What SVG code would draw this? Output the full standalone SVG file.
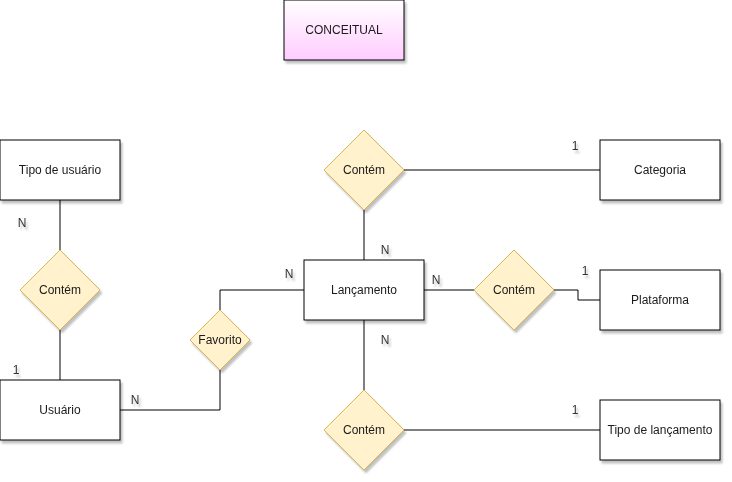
<svg xmlns="http://www.w3.org/2000/svg" width="732" height="482" viewBox="0 0 732 482">
<defs>
<linearGradient id="pink" x1="0" y1="0" x2="0" y2="1">
<stop offset="0" stop-color="#ffffff"/>
<stop offset="1" stop-color="#ffccff"/>
</linearGradient>
<filter id="sh" x="-20%" y="-20%" width="150%" height="150%">
<feGaussianBlur in="SourceAlpha" stdDeviation="1.2"/>
<feOffset dx="2" dy="3" result="b"/>
<feComponentTransfer><feFuncA type="linear" slope="0.25"/></feComponentTransfer>
<feMerge><feMergeNode/><feMergeNode in="SourceGraphic"/></feMerge>
</filter>
</defs>
<style>
.ent{fill:#ffffff;stroke:#000000;stroke-width:1}
.rel{fill:#fff2cc;stroke:#d6b656;stroke-width:1}
.t{font-family:"Liberation Sans",Arial,sans-serif;font-size:12px;fill:#1a1a1a;text-anchor:middle;dominant-baseline:central}
.lbl{font-family:"Liberation Sans",Arial,sans-serif;font-size:12px;fill:#333333;text-anchor:middle;dominant-baseline:central}
.c{fill:none;stroke:#000000;stroke-width:1}
</style>
<rect width="732" height="482" fill="#ffffff"/>
<g id="connectors">
<path class="c" d="M60 200V250"/>
<path class="c" d="M60 330V380"/>
<path class="c" d="M120 410H220V370"/>
<path class="c" d="M220 310V290H304"/>
<path class="c" d="M364 210V260"/>
<path class="c" d="M404 170H600"/>
<path class="c" d="M424 290H474"/>
<path class="c" d="M554 290H578V300H600"/>
<path class="c" d="M364 320V390"/>
<path class="c" d="M404 430H600"/>
</g>
<g id="title" filter="url(#sh)">
<rect x="284" y="0" width="120" height="60" fill="url(#pink)" stroke="#000000"/>
<text class="t" x="344" y="30">CONCEITUAL</text>
</g>
<g id="tipo-usuario" filter="url(#sh)">
<rect class="ent" x="0" y="140" width="120" height="60"/>
<text class="t" x="60" y="170">Tipo de usuário</text>
</g>
<g id="contem-usuario" filter="url(#sh)">
<path class="rel" d="M60 250L100 290L60 330L20 290Z"/>
<text class="t" x="60" y="290">Contém</text>
</g>
<g id="usuario" filter="url(#sh)">
<rect class="ent" x="0" y="380" width="120" height="60"/>
<text class="t" x="60" y="410">Usuário</text>
</g>
<g id="favorito" filter="url(#sh)">
<path class="rel" d="M220 310L250 340L220 370L190 340Z"/>
<text class="t" x="220" y="340">Favorito</text>
</g>
<g id="lancamento" filter="url(#sh)">
<rect class="ent" x="304" y="260" width="120" height="60"/>
<text class="t" x="364" y="290">Lançamento</text>
</g>
<g id="contem-categoria" filter="url(#sh)">
<path class="rel" d="M364 130L404 170L364 210L324 170Z"/>
<text class="t" x="364" y="170">Contém</text>
</g>
<g id="categoria" filter="url(#sh)">
<rect class="ent" x="600" y="140" width="120" height="60"/>
<text class="t" x="660" y="170">Categoria</text>
</g>
<g id="contem-plataforma" filter="url(#sh)">
<path class="rel" d="M514 250L554 290L514 330L474 290Z"/>
<text class="t" x="514" y="290">Contém</text>
</g>
<g id="plataforma" filter="url(#sh)">
<rect class="ent" x="600" y="270" width="120" height="60"/>
<text class="t" x="660" y="300">Plataforma</text>
</g>
<g id="contem-tipo-lancamento" filter="url(#sh)">
<path class="rel" d="M364 390L404 430L364 470L324 430Z"/>
<text class="t" x="364" y="430">Contém</text>
</g>
<g id="tipo-lancamento" filter="url(#sh)">
<rect class="ent" x="600" y="400" width="120" height="60"/>
<text class="t" x="660" y="430">Tipo de lançamento</text>
</g>
<g id="labels" filter="url(#sh)">
<text class="lbl" x="22" y="223">N</text>
<text class="lbl" x="16" y="370">1</text>
<text class="lbl" x="135" y="400">N</text>
<text class="lbl" x="289" y="274">N</text>
<text class="lbl" x="385" y="250">N</text>
<text class="lbl" x="436" y="280">N</text>
<text class="lbl" x="385" y="340">N</text>
<text class="lbl" x="575" y="146">1</text>
<text class="lbl" x="585" y="271">1</text>
<text class="lbl" x="575" y="410">1</text>
</g>
</svg>
